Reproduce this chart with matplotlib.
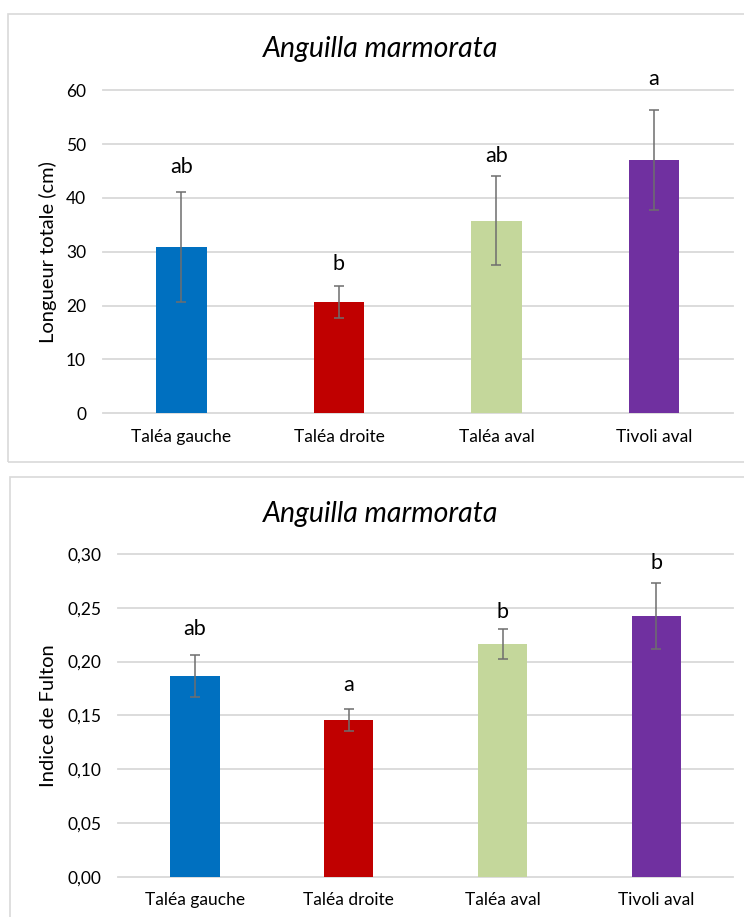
import numpy as np
import matplotlib.pyplot as plt
from matplotlib.patches import Rectangle
from matplotlib.ticker import FuncFormatter

plt.rcParams['font.family'] = ['Lato', 'DejaVu Sans']

sites = ['Taléa gauche', 'Taléa droite', 'Taléa aval', 'Tivoli aval']
colors = ['#0070C0', '#C00000', '#C4D79B', '#7030A0']

# longueur totale (cm)
lt_mean = [30.9, 20.7, 35.8, 47.1]
lt_err = [10.3, 2.95, 8.25, 9.3]
lt_letters = ['ab', 'b', 'ab', 'a']
lt_letter_y = [44.6, 26.6, 46.7, 61.0]

# indice de Fulton
kf_mean = [0.1865, 0.1456, 0.2163, 0.2423]
kf_err = [0.0197, 0.0101, 0.0138, 0.0307]
kf_letters = ['ab', 'a', 'b', 'b']
kf_letter_y = [0.2246, 0.1729, 0.2407, 0.286]

W, H = 744, 917
fig = plt.figure(figsize=(W / 100, H / 100), dpi=100)

def px_box(x0, y0, x1, y1):
    # pixel box (top-left origin) -> figure fraction [l, b, w, h]
    return [x0 / W, 1 - y1 / H, (x1 - x0) / W, (y1 - y0) / H]

grid_col = '#D9D9D9'

def draw_panel(frame, axbox, means, errs, letters, letter_y, ymax, step, fmt,
               ylabel, ylab_x, title_base):
    fx0, fy0, fx1, fy1 = frame
    fig.patches.append(Rectangle((fx0 / W, 1 - fy1 / H), (fx1 - fx0) / W, (fy1 - fy0) / H,
                                 transform=fig.transFigure, fill=False,
                                 edgecolor=grid_col, lw=1.2))
    ax = fig.add_axes(px_box(*axbox))
    x = np.arange(len(sites))
    ax.bar(x, means, width=0.32, color=colors, zorder=3)
    ax.errorbar(x, means, yerr=errs, fmt='none', ecolor='#6E6E6E',
                elinewidth=1.1, capsize=3.3, capthick=1.1, zorder=4)
    for xi, lab, ly in zip(x, letters, letter_y):
        ax.text(xi, ly, lab, ha='center', va='baseline', fontsize=15.5, color='black')
    ax.set_xlim(-0.5, len(sites) - 0.5)
    ax.set_ylim(0, ymax)
    ax.set_yticks(np.arange(0, ymax + step / 2, step))
    ax.yaxis.set_major_formatter(FuncFormatter(fmt))
    ax.set_xticks(x)
    ax.set_xticklabels(sites)
    ax.tick_params(axis='y', length=0, pad=12, labelsize=12.5)
    ax.tick_params(axis='x', length=0, pad=11, labelsize=12.5)
    for s in ax.spines.values():
        s.set_visible(False)
    ax.yaxis.grid(True, color=grid_col, lw=1.3)
    ax.set_axisbelow(True)
    for gl in ax.get_ygridlines():
        gl.set_clip_on(False)
    ax_l, ax_t, ax_r, ax_b = axbox
    fig.text(ylab_x / W, 1 - ((ax_t + ax_b) / 2) / H, ylabel, rotation=90,
             ha='center', va='center', fontsize=14.5)
    fig.text(381 / W, 1 - title_base / H, 'Anguilla marmorata', style='italic',
             ha='center', va='baseline', fontsize=20.5)
    return ax

draw_panel((8, 14, 770, 462), (102.7, 90.3, 732.7, 413.3),
           lt_mean, lt_err, lt_letters, lt_letter_y, 60, 10,
           lambda v, p: f'{v:.0f}', 'Longueur totale (cm)', 48, 56.7)

draw_panel((10, 477, 770, 940), (118, 554, 733.3, 876.7),
           kf_mean, kf_err, kf_letters, kf_letter_y, 0.30, 0.05,
           lambda v, p: f'{v:.2f}'.replace('.', ','), 'Indice de Fulton', 49, 521.7)

fig.savefig('out.png', dpi=100)
